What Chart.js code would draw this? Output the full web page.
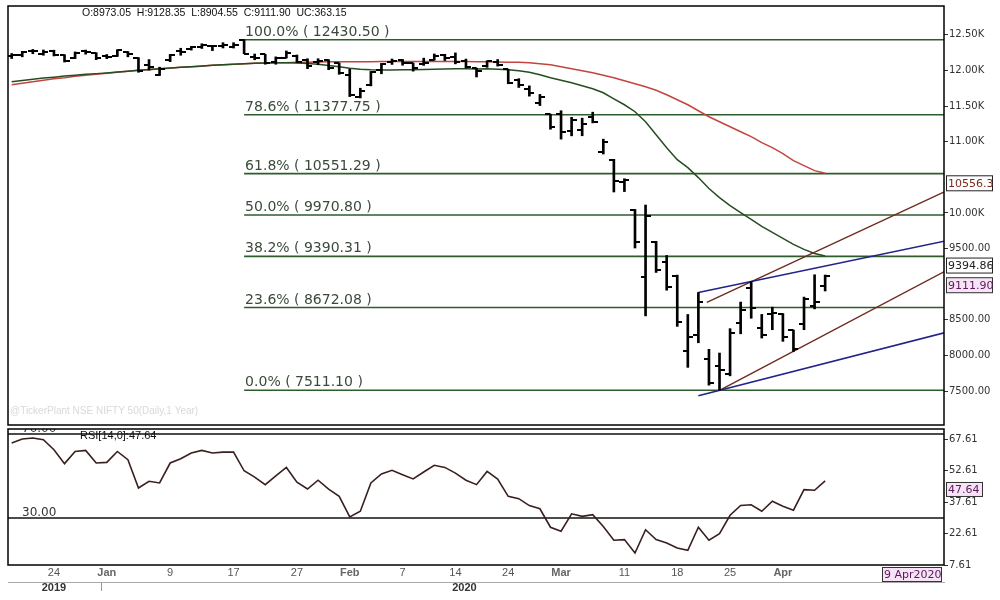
<!DOCTYPE html>
<html>
<head>
<meta charset="utf-8">
<script src="https://cdn.jsdelivr.net/npm/chart.js@4.4.1/dist/chart.umd.min.js"></script>
<style>
  html, body { margin: 0; padding: 0; background: #fff; }
  #wrap { position: relative; width: 1000px; height: 600px; overflow: hidden; background: #fff; }
  #price-chart { position: absolute; left: 0; top: 0; }
  #rsi-chart { position: absolute; left: 0; top: 428px; }
</style>
</head>
<body>
<div id="wrap">
  <canvas id="price-chart" width="1000" height="430"></canvas>
  <canvas id="rsi-chart" width="1000" height="172"></canvas>
</div>
<script>
// NIFTY 50 daily, 18 Dec 2019 .. 9 Apr 2020
const dates = [
    '2019-12-18', '2019-12-19', '2019-12-20', '2019-12-23', '2019-12-24', '2019-12-26', '2019-12-27', '2019-12-30', '2019-12-31',
    '2020-01-01', '2020-01-02', '2020-01-03', '2020-01-06', '2020-01-07', '2020-01-08', '2020-01-09', '2020-01-10', '2020-01-13',
    '2020-01-14', '2020-01-15', '2020-01-16', '2020-01-17', '2020-01-20', '2020-01-21', '2020-01-22', '2020-01-23', '2020-01-24',
    '2020-01-27', '2020-01-28', '2020-01-29', '2020-01-30', '2020-01-31',
    '2020-02-01', '2020-02-03', '2020-02-04', '2020-02-05', '2020-02-06', '2020-02-07', '2020-02-10', '2020-02-11', '2020-02-12',
    '2020-02-13', '2020-02-14', '2020-02-17', '2020-02-18', '2020-02-19', '2020-02-20', '2020-02-24', '2020-02-25', '2020-02-26',
    '2020-02-27', '2020-02-28',
    '2020-03-02', '2020-03-03', '2020-03-04', '2020-03-05', '2020-03-06', '2020-03-09', '2020-03-11', '2020-03-12', '2020-03-13',
    '2020-03-16', '2020-03-17', '2020-03-18', '2020-03-19', '2020-03-20', '2020-03-23', '2020-03-24', '2020-03-25', '2020-03-26',
    '2020-03-27', '2020-03-30', '2020-03-31',
    '2020-04-01', '2020-04-03', '2020-04-07', '2020-04-08', '2020-04-09'
];

const openPrices = [
    12197, 12223, 12273, 12235, 12270, 12211, 12173, 12275, 12247,
    12202, 12199, 12261, 12170, 12079, 11939, 12153, 12272, 12296, 12333, 12349, 12348, 12329, 12430, 12195, 12226, 12123, 12175,
    12197, 12148, 12114, 12147, 12100,
    11940, 11628, 11799, 12005, 12120, 12152, 12102, 12086, 12151, 12219, 12191, 12131, 12028, 12056, 12119, 12013, 11868, 11738,
    11537, 11384,
    11388, 11156, 11163, 11346, 10857, 10742, 10441, 10039, 9107, 9588, 9314, 9121, 8063, 8286, 7946, 7848, 7735, 8451, 8949,
    8385, 8584,
    8584, 8356, 8446, 8689, 8973.05
];
const highPrices = [
    12237, 12268, 12294, 12287, 12284, 12221, 12259, 12286, 12248,
    12223, 12290, 12265, 12179, 12152, 12045, 12225, 12311, 12337, 12374, 12349, 12389, 12389, 12430.5, 12230, 12226, 12190, 12273,
    12216, 12164, 12164, 12150, 12103,
    12017, 11750, 11986, 12099, 12160, 12154, 12103, 12172, 12231, 12226, 12246, 12159, 12031, 12135, 12153, 12013, 11884, 11783,
    11663, 11385,
    11434, 11342, 11330, 11414, 11035, 10752, 10480, 10049, 10111, 9602, 9403, 9127, 8575, 8883, 8086, 8034, 8376, 8749, 9038,
    8576, 8678,
    8588, 8356, 8819, 9132, 9128.35
];
const lowPrices = [
    12167, 12191, 12234, 12213, 12203, 12118, 12166, 12228, 12151,
    12165, 12195, 12191, 11974, 12005, 11929, 12123, 12213, 12285, 12308, 12278, 12315, 12314, 12234, 12150, 12087, 12087, 12174,
    12107, 12024, 12080, 12010, 11946,
    11633, 11614, 11783, 11953, 12084, 12073, 11990, 12071, 12144, 12139, 12092, 12035, 11908, 12043, 12061, 11813, 11761, 11639,
    11507, 11175,
    11036, 11082, 11083, 11264, 10827, 10294, 10300, 9508, 8555, 9165, 8916, 8408, 7833, 8178, 7583, 7511.1, 7714, 8304, 8522,
    8244, 8361,
    8198, 8056, 8361, 8654, 8904.55
];
const closePrices = [
    12221, 12260, 12272, 12262, 12215, 12127, 12246, 12255, 12168,
    12182, 12282, 12226, 11993, 12052, 12025, 12216, 12257, 12330, 12362, 12343, 12355, 12352, 12224, 12170, 12107, 12180, 12248,
    12119, 12055, 12129, 12035, 11962,
    11662, 11708, 11979, 12089, 12137, 12098, 12032, 12108, 12201, 12174, 12113, 12046, 11993, 12126, 12081, 11829, 11798, 11678,
    11633, 11202,
    11132, 11303, 11251, 11270, 10989, 10451, 10458, 9590, 9955, 9197, 8967, 8469, 8264, 8745, 7610, 7801, 8318, 8641, 8660,
    8281, 8598,
    8254, 8084, 8792, 8748.75, 9111.90
];

// moving averages as drawn (green = faster, red = slower)
const maFast = [
    11840, 11858, 11875, 11893, 11905, 11920, 11932, 11945, 11955,
    11965, 11978, 11990, 12003, 12013, 12024, 12034, 12045, 12052, 12062, 12073, 12080, 12087, 12094, 12099, 12103, 12106, 12106,
    12104, 12098, 12088, 12070, 12050,
    12030, 12015, 12008, 12006, 12006, 12008, 12011, 12014, 12017, 12020, 12022, 12022, 12021, 12022, 12018, 12008, 11994, 11973,
    11938, 11896,
    11861, 11826, 11784, 11742, 11686, 11602, 11518, 11420, 11280, 11098, 10916, 10748, 10636, 10496, 10342, 10216, 10104, 10006,
    9908, 9810, 9726,
    9642, 9558, 9488, 9432, 9394.86
];
const maSlow = [
    11798, 11819, 11840, 11861, 11882, 11896, 11917, 11931, 11945,
    11959, 11973, 11987, 12001, 12011, 12022, 12032, 12043, 12050, 12060, 12071, 12078, 12085, 12092, 12099, 12103, 12106, 12109,
    12113, 12116, 12119, 12120, 12121,
    12121, 12122, 12123, 12124, 12125, 12125, 12125, 12125, 12126, 12126, 12126, 12125, 12123, 12121, 12119, 12116, 12113, 12106,
    12092, 12078,
    12050, 12022, 11994, 11966, 11931, 11896, 11854, 11812, 11770, 11721, 11658, 11588, 11518, 11434, 11350, 11280, 11210, 11140,
    11070, 10986, 10916,
    10832, 10734, 10664, 10594, 10556.3
];

const rsiValues = [
    65.7, 67.6, 68.1, 67.3, 62.5, 55.9, 61.7, 62.2, 56.2,
    56.5, 61.7, 57.8, 44.3, 47.5, 46.7, 56.2, 58.2, 61.0, 62.2, 61.0, 61.4, 61.4, 52.5, 49.5, 45.9, 50.1, 54.1,
    47.1, 43.8, 48.0, 43.8, 40.3,
    30.5, 33.2, 46.7, 51.0, 52.7, 50.6, 48.6, 51.9, 55.1, 54.1, 51.4, 48.0, 45.9, 52.2, 48.5, 40.3, 39.2, 35.9,
    34.4, 25.6,
    23.7, 32.0, 30.8, 31.6, 26.0, 19.4, 19.7, 13.3, 24.4, 19.7, 18.1, 15.7, 14.6, 25.6, 19.4, 22.5, 31.3, 36.0,
    36.3, 33.2, 38.0,
    35.6, 33.7, 43.5, 43.2, 47.64
];

const fibLevels = [12430.50, 11377.75, 10551.29, 9970.80, 9390.31, 8672.08, 7511.10];
const fibPercents = ['100.0%', '78.6%', '61.8%', '50.0%', '38.2%', '23.6%', '0.0%'];
const fibStartIndex = 22;

const blueUpperLine = [{ x: 65, y: 8883 }, { x: 89, y: 9626 }];
const blueLowerLine = [{ x: 65, y: 7435 }, { x: 89, y: 8345 }];
const brownUpperLine = [{ x: 65.8, y: 8746 }, { x: 89, y: 10345 }];
const brownLowerLine = [{ x: 67, y: 7511 }, { x: 89, y: 9234 }];

// 9000 and 10.50K sit under the value boxes in the original
const priceTicks = [7500, 8000, 8500, 9500, 10000, 11000, 11500, 12000, 12500];
const rsiTicks = [7.61, 22.61, 37.61, 52.61, 67.61];
const rsiBands = [70, 30];
const dateTickIndex = [4, 9, 15, 21, 27, 32, 37, 42, 47, 52, 58, 63, 68, 73];
const yearTicks = [4, 8.5, 42.86];
const yearLabels = ['2019', '', '2020'];

const MONTHS = ['Jan', 'Feb', 'Mar', 'Apr', 'May', 'Jun', 'Jul', 'Aug', 'Sep', 'Oct', 'Nov', 'Dec'];
const X_MIN = -0.35;
const X_MAX = 88.25;
const PRICE_MIN = 7024;
const PRICE_MAX = 12904;
const RSI_MIN = 7.61;
const RSI_MAX = 72.4;

const SANS = '"Liberation Sans", Arial, sans-serif';
const VERDANA = '"DejaVu Sans", Verdana, sans-serif';

const last = dates.length - 1;

function splitDate(s) {
    const [y, m, d] = s.split('-').map(Number);
    return { y, m, d };
}

function isMonthStart(i) {
    if (!(i > 0) || !dates[i]) return false;
    return splitDate(dates[i]).m !== splitDate(dates[i - 1]).m;
}

function dateTickLabel(i) {
    const { m, d } = splitDate(dates[i]);
    return isMonthStart(i) ? MONTHS[m - 1] : String(d);
}

function tickValue(ctx) {
    return ctx && ctx.tick ? ctx.tick.value : -1;
}

function priceTickLabel(v) {
    return v >= 10000 ? (v / 1000).toFixed(2) + 'K' : v.toFixed(2);
}

function toPoints(values) {
    return values.map((v, i) => ({ x: i, y: v }));
}

// fixed axis sizes, and no extra room for overhanging labels
function fixWidth(w) {
    return (scale) => {
        scale.width = w;
        scale.paddingTop = 0;
        scale.paddingBottom = 0;
    };
}

function fixHeight(h) {
    return (scale) => {
        scale.height = h;
        scale.paddingLeft = 0;
        scale.paddingRight = 0;
    };
}

function makeTickImage(side) {
    const c = document.createElement('canvas');
    c.width = 10;
    c.height = 2;
    const g = c.getContext('2d');
    g.fillStyle = '#000';
    g.fillRect(side === 'open' ? 0 : 5, 0, 5, 2);
    return c;
}

function drawValueBox(ctx, x, y, w, h, text, fill, stroke, color) {
    ctx.save();
    ctx.fillStyle = fill;
    ctx.fillRect(x, y, w, h);
    ctx.strokeStyle = stroke;
    ctx.lineWidth = 1;
    ctx.strokeRect(x + 0.5, y + 0.5, w - 1, h - 1);
    ctx.beginPath();
    ctx.rect(x, y, w, h);
    ctx.clip();
    ctx.fillStyle = color;
    ctx.font = '11px ' + VERDANA;
    ctx.textAlign = 'left';
    ctx.textBaseline = 'middle';
    ctx.fillText(text, x + 2, y + h / 2 + 0.5);
    ctx.restore();
}

const framePlugin = {
    id: 'frame',
    afterDraw(chart) {
        const { ctx, chartArea: a } = chart;
        ctx.save();
        ctx.strokeStyle = '#000';
        ctx.lineWidth = 1.5;
        ctx.strokeRect(a.left, a.top, a.right - a.left, a.bottom - a.top);
        ctx.restore();
    }
};

const priceAnnotations = {
    id: 'priceAnnotations',
    afterDatasetsDraw(chart) {
        const { ctx, chartArea: a, scales: { x, y } } = chart;
        ctx.save();
        ctx.font = '14px ' + VERDANA;
        ctx.fillStyle = '#3a4a3a';
        ctx.textAlign = 'left';
        ctx.textBaseline = 'alphabetic';
        fibLevels.forEach((level, i) => {
            const text = `${fibPercents[i]} ( ${level.toFixed(2)} )`;
            ctx.fillText(text, x.getPixelForValue(fibStartIndex) + 1, y.getPixelForValue(level) - 4);
        });

        const change = closePrices[last] - closePrices[last - 1];
        ctx.font = '10.5px ' + SANS;
        ctx.fillStyle = '#111';
        ctx.textBaseline = 'middle';
        ctx.fillText(`O:${openPrices[last].toFixed(2)}  H:${highPrices[last].toFixed(2)}  L:${lowPrices[last].toFixed(2)}  C:${closePrices[last].toFixed(2)}  UC:${change.toFixed(2)}`, a.left + 74, a.top + 7);

        ctx.font = '10px ' + SANS;
        ctx.fillStyle = '#d9d9d9';
        ctx.fillText('@TickerPlant NSE NIFTY 50(Daily,1 Year)', a.left + 2, a.bottom - 14);
        ctx.restore();
    },
    afterDraw(chart) {
        const { ctx, chartArea: a, scales: { y } } = chart;
        const bx = a.right + 2;
        drawValueBox(ctx, bx, y.getPixelForValue(maSlow[last]) + 2, 47, 16, maSlow[last].toFixed(2).slice(0, 7), '#fff', '#222', '#7b2b1c');
        drawValueBox(ctx, bx, y.getPixelForValue(maFast[last]) + 1.5, 47, 16, maFast[last].toFixed(2).slice(0, 7), '#fff', '#222', '#222');
        drawValueBox(ctx, bx, y.getPixelForValue(closePrices[last]) + 1, 47, 16, closePrices[last].toFixed(2).slice(0, 7), '#f6e3f6', '#333', '#5a1a5a');
    }
};

const rsiAnnotations = {
    id: 'rsiAnnotations',
    afterDatasetsDraw(chart) {
        const { ctx, chartArea: a, scales: { y } } = chart;
        ctx.save();
        ctx.beginPath();
        ctx.rect(a.left, a.top, a.right - a.left, a.bottom - a.top);
        ctx.clip();
        ctx.font = '12px ' + VERDANA;
        ctx.fillStyle = '#333';
        ctx.textAlign = 'left';
        ctx.textBaseline = 'alphabetic';
        rsiBands.forEach((band) => {
            ctx.fillText(band.toFixed(2), a.left + 14, y.getPixelForValue(band) - 2);
        });
        ctx.font = '11px ' + SANS;
        ctx.fillStyle = '#111';
        ctx.fillText(`RSI[14,0]:${rsiValues[last].toFixed(2)}`, a.left + 72, a.top + 10);
        ctx.restore();
    },
    afterDraw(chart) {
        const { ctx, chartArea: a, scales: { y } } = chart;
        drawValueBox(ctx, a.right + 2, y.getPixelForValue(rsiValues[last]) + 1, 37, 15, rsiValues[last].toFixed(2), '#f6e3f6', '#333', '#5a1a5a');
        const { y: yr, m, d } = splitDate(dates[last]);
        drawValueBox(ctx, a.right - 62, a.bottom + 2, 60, 15, `${d} ${MONTHS[m - 1]}${yr}`, '#f6e3f6', '#333', '#5a1a5a');
    }
};

const openTickImg = makeTickImage('open');
const closeTickImg = makeTickImage('close');

function lineDataset(points, color, width, order) {
    return {
        type: 'line',
        data: points,
        borderColor: color,
        borderWidth: width,
        pointRadius: 0,
        tension: 0,
        fill: false,
        order
    };
}

const rightTicks = {
    color: '#333',
    padding: 1,
    font: { family: VERDANA, size: 10 }
};

new Chart(document.getElementById('price-chart'), {
    type: 'bar',
    data: {
        datasets: [
            {
                type: 'bar',
                data: dates.map((d, i) => ({ x: i, y: [lowPrices[i], highPrices[i]] })),
                backgroundColor: '#000',
                barThickness: 2,
                grouped: false,
                order: 0
            },
            {
                type: 'scatter',
                data: toPoints(openPrices),
                pointStyle: openTickImg,
                pointRadius: 3,
                order: 0
            },
            {
                type: 'scatter',
                data: toPoints(closePrices),
                pointStyle: closeTickImg,
                pointRadius: 3,
                order: 0
            },
            lineDataset(toPoints(maFast), '#264d22', 1.5, 2),
            lineDataset(toPoints(maSlow), '#c4453f', 1.5, 2),
            ...fibLevels.map((level) => lineDataset([{ x: fibStartIndex, y: level }, { x: X_MAX + 1, y: level }], '#2d5d2d', 1.6, 3)),
            lineDataset(blueUpperLine, '#22228a', 1.6, 1),
            lineDataset(blueLowerLine, '#22228a', 1.6, 1),
            lineDataset(brownUpperLine, '#6e2b1e', 1.4, 1),
            lineDataset(brownLowerLine, '#6e2b1e', 1.4, 1)
        ]
    },
    options: {
        responsive: false,
        animation: false,
        devicePixelRatio: 1,
        events: [],
        layout: { padding: { left: 8, top: 6, right: 0, bottom: 4 } },
        plugins: { legend: { display: false }, tooltip: { enabled: false } },
        scales: {
            x: { type: 'linear', min: X_MIN, max: X_MAX, display: false, offset: false },
            y: {
                position: 'right',
                min: PRICE_MIN,
                max: PRICE_MAX,
                afterFit: fixWidth(56),
                afterBuildTicks: (scale) => { scale.ticks = priceTicks.map((v) => ({ value: v })); },
                ticks: { ...rightTicks, callback: (v) => priceTickLabel(v) },
                grid: { display: true, drawOnChartArea: false, drawTicks: true, tickLength: 4, color: '#333' },
                border: { display: false }
            }
        }
    },
    plugins: [framePlugin, priceAnnotations]
});

new Chart(document.getElementById('rsi-chart'), {
    type: 'line',
    data: {
        datasets: [
            ...rsiBands.map((band) => lineDataset([{ x: X_MIN - 1, y: band }, { x: X_MAX + 1, y: band }], '#111', 1.6, 2)),
            lineDataset(toPoints(rsiValues), '#3a1f1f', 1.6, 1)
        ]
    },
    options: {
        responsive: false,
        animation: false,
        devicePixelRatio: 1,
        events: [],
        layout: { padding: { left: 8, top: 1, right: 0, bottom: 0 } },
        plugins: { legend: { display: false }, tooltip: { enabled: false } },
        scales: {
            x: {
                type: 'linear',
                position: 'bottom',
                min: X_MIN,
                max: X_MAX,
                afterFit: fixHeight(17),
                afterBuildTicks: (scale) => { scale.ticks = dateTickIndex.map((v) => ({ value: v })); },
                ticks: {
                    autoSkip: false,
                    maxRotation: 0,
                    padding: 1,
                    callback: (v) => dateTickLabel(v),
                    color: (ctx) => (isMonthStart(tickValue(ctx)) ? '#666' : '#555'),
                    font: (ctx) => ({ family: SANS, size: 11, weight: isMonthStart(tickValue(ctx)) ? 'bold' : 'normal' })
                },
                grid: { display: false, drawTicks: false },
                border: { display: false }
            },
            x2: {
                type: 'linear',
                position: 'bottom',
                min: X_MIN,
                max: X_MAX,
                afterFit: fixHeight(18),
                afterBuildTicks: (scale) => { scale.ticks = yearTicks.map((v) => ({ value: v })); },
                ticks: {
                    autoSkip: false,
                    maxRotation: 0,
                    padding: -10,
                    color: '#333',
                    font: { family: SANS, size: 11, weight: 'bold' },
                    callback: (v, i) => yearLabels[i]
                },
                grid: {
                    display: true,
                    drawOnChartArea: false,
                    drawTicks: true,
                    tickLength: 9,
                    color: (ctx) => (yearLabels[ctx.index] === '' ? '#999' : 'rgba(0,0,0,0)')
                },
                border: { display: true, color: '#aaa', width: 1 }
            },
            y: {
                position: 'right',
                min: RSI_MIN,
                max: RSI_MAX,
                afterFit: fixWidth(56),
                afterBuildTicks: (scale) => { scale.ticks = rsiTicks.map((v) => ({ value: v })); },
                ticks: { ...rightTicks, callback: (v) => v.toFixed(2) },
                grid: { display: true, drawOnChartArea: false, drawTicks: true, tickLength: 4, color: '#333' },
                border: { display: false }
            }
        }
    },
    plugins: [framePlugin, rsiAnnotations]
});
</script>
</body>
</html>
